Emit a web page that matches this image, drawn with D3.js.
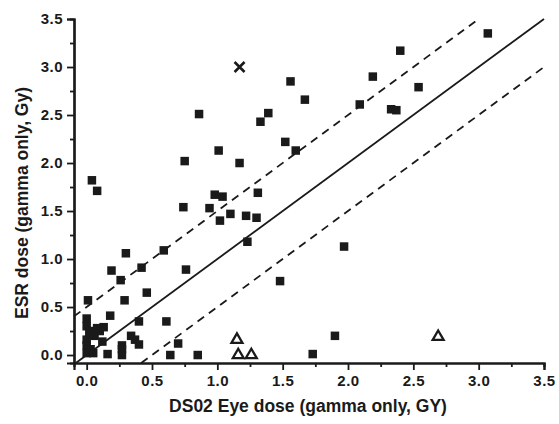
<!DOCTYPE html>
<html>
<head>
<meta charset="utf-8">
<script src="https://cdn.jsdelivr.net/npm/d3@7"></script>
<style>
  body { margin: 0; background: #fff; }
  svg text { font-family: "Liberation Sans", Arial, sans-serif; font-weight: bold; fill: #1a1a1a; }
</style>
</head>
<body>
<svg id="chart" width="559" height="424"></svg>
<script>
// values
const squareX = [3.07, 2.40, 2.19, 1.56, 1.67, 2.54, 2.09, 2.33, 2.37, 1.39, 1.33, 0.86, 1.52, 1.60, 1.01, 0.75, 1.17,
  0.04, 0.08, 0.98, 1.04, 1.31, 0.74, 0.94, 1.02, 1.10, 1.22, 1.30, 1.23, 1.97, 0.59, 0.30, 0.42, 0.19, 0.76, 0.26,
  1.48, 0.46, 0.29, 0.01, 0.18, 0.00, 0.40, 0.61, 0.00, 0.05, 0.10, 0.13, 0.00, 0.06, 0.12, 0.34, 0.37, 0.40, 0.27,
  0.27, 0.00, 0.00, 0.05, 0.16, 0.27, 0.03, 0.64, 0.70, 0.85, 1.90, 1.73, 0.08, 0.02];
const squareY = [3.35, 3.17, 2.90, 2.85, 2.66, 2.79, 2.61, 2.56, 2.55, 2.52, 2.43, 2.51, 2.22, 2.13, 2.13, 2.02, 2.00,
  1.82, 1.71, 1.67, 1.65, 1.69, 1.54, 1.53, 1.40, 1.47, 1.45, 1.43, 1.18, 1.13, 1.09, 1.06, 0.91, 0.88, 0.89, 0.78,
  0.77, 0.65, 0.57, 0.57, 0.41, 0.38, 0.35, 0.35, 0.30, 0.25, 0.25, 0.29, 0.16, 0.20, 0.14, 0.20, 0.16, 0.11, 0.10,
  0.06, 0.10, 0.02, 0.02, 0.01, 0.00, 0.06, 0.00, 0.12, 0.00, 0.20, 0.01, 0.28, 0.22];
const triangleX = [1.15, 1.16, 1.26, 2.69];
const triangleY = [0.16, 0.00, 0.00, 0.19];
const crossX = [1.17];
const crossY = [3.00];
const lineOffsets = [0, 0.5, -0.5];   // y = x + offset
const xTicks = [0, 0.5, 1.0, 1.5, 2.0, 2.5, 3.0, 3.5];
const yTicks = [0, 0.5, 1.0, 1.5, 2.0, 2.5, 3.0, 3.5];
const xMinor = [0.25, 0.75, 1.25, 1.75, 2.25, 2.75, 3.25];
const yMinor = [0.25, 0.75, 1.25, 1.75, 2.25, 2.75, 3.25];

const ink = "#1a1a1a";
const svg = d3.select("#chart");
const xDom = [-0.097, 3.5], yDom = [-0.083, 3.5];
const x = d3.scaleLinear().domain(xDom).range([74, 544]);
const y = d3.scaleLinear().domain(yDom).range([363, 19]);

// reference lines, clipped to the plot box
lineOffsets.forEach(off => {
  let x0 = Math.max(xDom[0], yDom[0] - off);
  let x1 = Math.min(xDom[1], yDom[1] - off);
  svg.append("line")
    .attr("x1", x(x0)).attr("y1", y(x0 + off))
    .attr("x2", x(x1)).attr("y2", y(x1 + off))
    .attr("stroke", ink).attr("stroke-width", 1.8)
    .attr("stroke-dasharray", off === 0 ? null : "8,6");
});

// axes
svg.append("g").attr("transform", "translate(0,363)")
  .call(d3.axisBottom(x).tickValues(xTicks).tickSize(7).tickPadding(5).tickFormat(d3.format(".1f")));
svg.append("g").attr("transform", "translate(0,363)")
  .call(d3.axisBottom(x).tickValues(xMinor).tickSize(4).tickFormat(""));
svg.append("g").attr("transform", "translate(74,0)")
  .call(d3.axisLeft(y).tickValues(yTicks).tickSize(7).tickPadding(4).tickFormat(d3.format(".1f")));
svg.append("g").attr("transform", "translate(74,0)")
  .call(d3.axisLeft(y).tickValues(yMinor).tickSize(4).tickFormat(""));

svg.selectAll(".domain").attr("stroke", ink).attr("stroke-width", 2.2);
svg.selectAll(".tick line").attr("stroke", ink).attr("stroke-width", 1.8);
svg.selectAll(".tick text").attr("font-size", 15).attr("letter-spacing", 0.5)
  .attr("font-family", null).attr("fill", ink);

// points
const sq = 8.5;
svg.append("g").selectAll("rect").data(squareX).join("rect")
  .attr("x", (d, i) => x(d) - sq / 2)
  .attr("y", (d, i) => y(squareY[i]) - sq / 2)
  .attr("width", sq).attr("height", sq)
  .attr("fill", ink);

const tri = d3.symbol().type(d3.symbolTriangle).size(52);
svg.append("g").selectAll("path").data(triangleX).join("path")
  .attr("d", tri)
  .attr("transform", (d, i) => `translate(${x(d)},${y(triangleY[i])})`)
  .attr("fill", "#fff").attr("stroke", ink).attr("stroke-width", 2.3);

const cr = 5;
crossX.forEach((d, i) => {
  const cx = x(d), cy = y(crossY[i]);
  svg.append("path")
    .attr("d", `M${cx - cr},${cy - cr}L${cx + cr},${cy + cr}M${cx - cr},${cy + cr}L${cx + cr},${cy - cr}`)
    .attr("stroke", ink).attr("stroke-width", 2.6).attr("fill", "none");
});

// axis titles
svg.append("text").attr("x", 308).attr("y", 412).attr("text-anchor", "middle")
  .attr("font-size", 17.5).text("DS02 Eye dose (gamma only, GY)");
svg.append("text").attr("transform", "translate(28,203) rotate(-90)").attr("text-anchor", "middle")
  .attr("font-size", 17.5).text("ESR dose (gamma only, Gy)");
</script>
</body>
</html>
